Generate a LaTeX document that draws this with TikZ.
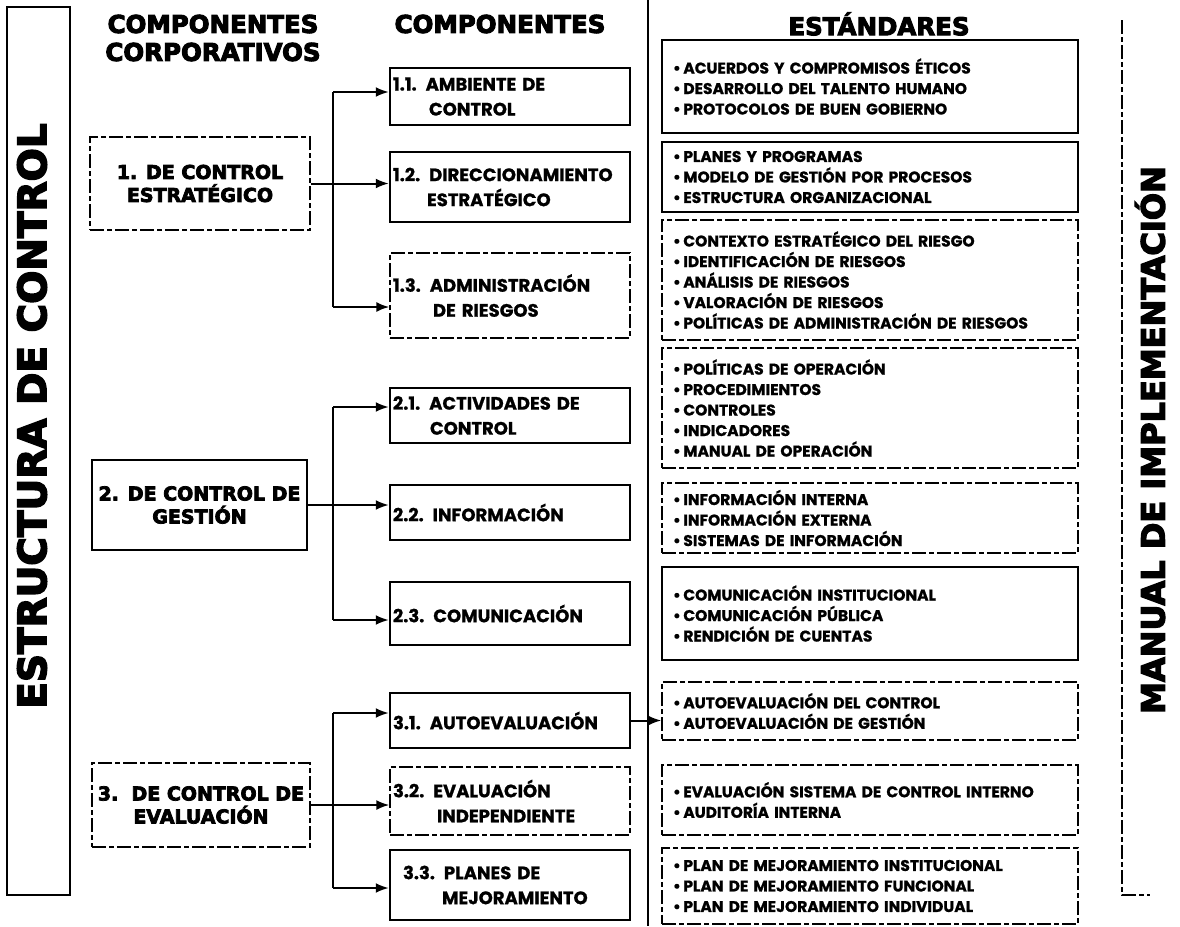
\documentclass[tikz,border=0pt]{standalone}
\usepackage{fontspec}
\newfontfamily\heavy{DejaVu Sans}[BoldFeatures={FakeBold=4}]
\newfontfamily\gothic{Poppins}[BoldFeatures={FakeBold=1}]
\usetikzlibrary{arrows.meta,calc}
\begin{document}
\begin{tikzpicture}[x=1pt,y=-1pt,
  hdr/.style={font=\heavy\bfseries\fontsize{24.5}{28}\selectfont, align=center, inner sep=0pt},
  side/.style={font=\heavy\bfseries, rotate=90, inner sep=0pt},
  solidline/.style={line width=2.5pt},
  faint/.style={line width=1.4pt, dash pattern=on 14pt off 3pt on 5pt off 3pt},
  lvone/.style={draw, font=\heavy\bfseries\fontsize{19}{23}\selectfont, align=center, inner sep=0pt},
  comp/.style={draw, minimum width=240pt, text width=234pt, inner xsep=3pt, inner ysep=0pt, align=left, font=\gothic\bfseries\fontsize{18}{25}\selectfont},
  std/.style={draw, minimum width=416pt, text width=394pt, inner xsep=11pt, inner ysep=0pt, align=left, font=\gothic\bfseries\fontsize{15.5}{20.5}\selectfont},
  conn/.style={line width=2pt},
  arr/.style={conn, -{Latex[length=13pt,width=10pt]}},
]
\useasboundingbox (0,0) rectangle (1180,926);

% side frames
\draw[line width=1.8pt] (7,7) rectangle (70,895);
\node[side, font=\heavy\bfseries\fontsize{39}{39}\selectfont] (lside) at (32,416) {ESTRUCTURA DE CONTROL};
\draw[faint] (1122,20) -- (1122,895) -- (1150,895);
\node[side, font=\heavy\bfseries\fontsize{32}{32}\selectfont] (rside) at (1150,440) {MANUAL DE IMPLEMENTACIÓN};

% divider
\draw[line width=1.6pt] (648,0) -- (648,926);

% headers
\node[hdr] (h1) at (213,38) {COMPONENTES\\CORPORATIVOS};
\node[hdr] (h2) at (500,24) {COMPONENTES};
\node[hdr] (h3) at (879,24) {ESTÁNDARES};

% level one
\node[lvone, faint, minimum width=220pt, minimum height=93pt] (b1) at (200,183.5) {1. DE CONTROL\\ESTRATÉGICO};
\node[lvone, solidline, minimum width=215pt, minimum height=90pt] (b2) at (199.5,505) {2. DE CONTROL DE\\GESTIÓN};
\node[lvone, faint, minimum width=218pt, minimum height=84pt] (b3) at (201,805) {3.\ \ DE CONTROL DE\\EVALUACIÓN};

% components
\node[comp, solidline, minimum height=57pt] (b11) at (510,96.5) {1.1. AMBIENTE DE\\\hspace*{36pt}CONTROL};
\node[comp, solidline, minimum height=70pt] (b12) at (510,187) {1.2. DIRECCIONAMIENTO\\\hspace*{34pt}ESTRATÉGICO};
\node[comp, faint, minimum height=85pt] (b13) at (510,295.5) {1.3. ADMINISTRACIÓN\\\hspace*{40pt}DE RIESGOS};
\node[comp, solidline, minimum height=55pt] (b21) at (510,415.5) {2.1. ACTIVIDADES DE\\\hspace*{37pt}CONTROL};
\node[comp, solidline, minimum height=55pt] (b22) at (510,512.5) {2.2. INFORMACIÓN};
\node[comp, solidline, minimum height=63pt] (b23) at (510,613.5) {2.3. COMUNICACIÓN};
\node[comp, solidline, minimum height=55pt] (b31) at (510,720.5) {3.1. AUTOEVALUACIÓN};
\node[comp, faint, minimum height=68pt] (b32) at (510,801) {3.2. EVALUACIÓN\\\hspace*{44pt}INDEPENDIENTE};
\node[comp, solidline, minimum height=70pt] (b33) at (510,885) {\hspace*{10pt}3.3. PLANES DE\\\hspace*{49pt}MEJORAMIENTO};

% standards
\node[std, solidline, minimum height=93pt] (s1) at (870,86.5) {\textbullet\,ACUERDOS Y COMPROMISOS ÉTICOS\\\textbullet\,DESARROLLO DEL TALENTO HUMANO\\\textbullet\,PROTOCOLOS DE BUEN GOBIERNO};
\node[std, solidline, minimum height=70pt] (s2) at (870,177) {\textbullet\,PLANES Y PROGRAMAS\\\textbullet\,MODELO DE GESTIÓN POR PROCESOS\\\textbullet\,ESTRUCTURA ORGANIZACIONAL};
\node[std, faint, minimum height=120pt] (s3) at (870,280) {\textbullet\,CONTEXTO ESTRATÉGICO DEL RIESGO\\\textbullet\,IDENTIFICACIÓN DE RIESGOS\\\textbullet\,ANÁLISIS DE RIESGOS\\\textbullet\,VALORACIÓN DE RIESGOS\\\textbullet\,POLÍTICAS DE ADMINISTRACIÓN DE RIESGOS};
\node[std, faint, minimum height=120pt] (s4) at (870,408) {\textbullet\,POLÍTICAS DE OPERACIÓN\\\textbullet\,PROCEDIMIENTOS\\\textbullet\,CONTROLES\\\textbullet\,INDICADORES\\\textbullet\,MANUAL DE OPERACIÓN};
\node[std, faint, minimum height=70pt] (s5) at (870,518) {\textbullet\,INFORMACIÓN INTERNA\\\textbullet\,INFORMACIÓN EXTERNA\\\textbullet\,SISTEMAS DE INFORMACIÓN};
\node[std, solidline, minimum height=93pt] (s6) at (870,613.5) {\textbullet\,COMUNICACIÓN INSTITUCIONAL\\\textbullet\,COMUNICACIÓN PÚBLICA\\\textbullet\,RENDICIÓN DE CUENTAS};
\node[std, faint, minimum height=58pt] (s7) at (870,711) {\textbullet\,AUTOEVALUACIÓN DEL CONTROL\\\textbullet\,AUTOEVALUACIÓN DE GESTIÓN};
\node[std, faint, minimum height=70pt] (s8) at (870,800) {\textbullet\,EVALUACIÓN SISTEMA DE CONTROL INTERNO\\\textbullet\,AUDITORÍA INTERNA};
\node[std, faint, minimum height=76pt] (s9) at (870,886) {\textbullet\,PLAN DE MEJORAMIENTO INSTITUCIONAL\\\textbullet\,PLAN DE MEJORAMIENTO FUNCIONAL\\\textbullet\,PLAN DE MEJORAMIENTO INDIVIDUAL};

% connectors group 1
\coordinate (t11) at (333,92);
\coordinate (t13) at (333,307);
\draw[conn] (t11) -- (t13);
\draw[arr] (t11) -- (t11 -| b11.west);
\draw[arr] (b1.east) -- (b1.east -| b12.west);
\draw[arr] (t13) -- (t13 -| b13.west);
% group 2
\coordinate (t21) at (333,407);
\coordinate (t23) at (333,620);
\draw[conn] (t21) -- (t23);
\draw[arr] (t21) -- (t21 -| b21.west);
\draw[arr] (b2.east) -- (b2.east -| b22.west);
\draw[arr] (t23) -- (t23 -| b23.west);
% group 3
\coordinate (t31) at (333,713);
\coordinate (t33) at (333,888);
\draw[conn] (t31) -- (t33);
\draw[arr] (t31) -- (t31 -| b31.west);
\draw[arr] (b3.east) -- (b3.east -| b32.west);
\draw[arr] (t33) -- (t33 -| b33.west);
% 3.1 to standards
\draw[arr] (b31.east) -- (b31.east -| s7.west);
\end{tikzpicture}
\end{document}
